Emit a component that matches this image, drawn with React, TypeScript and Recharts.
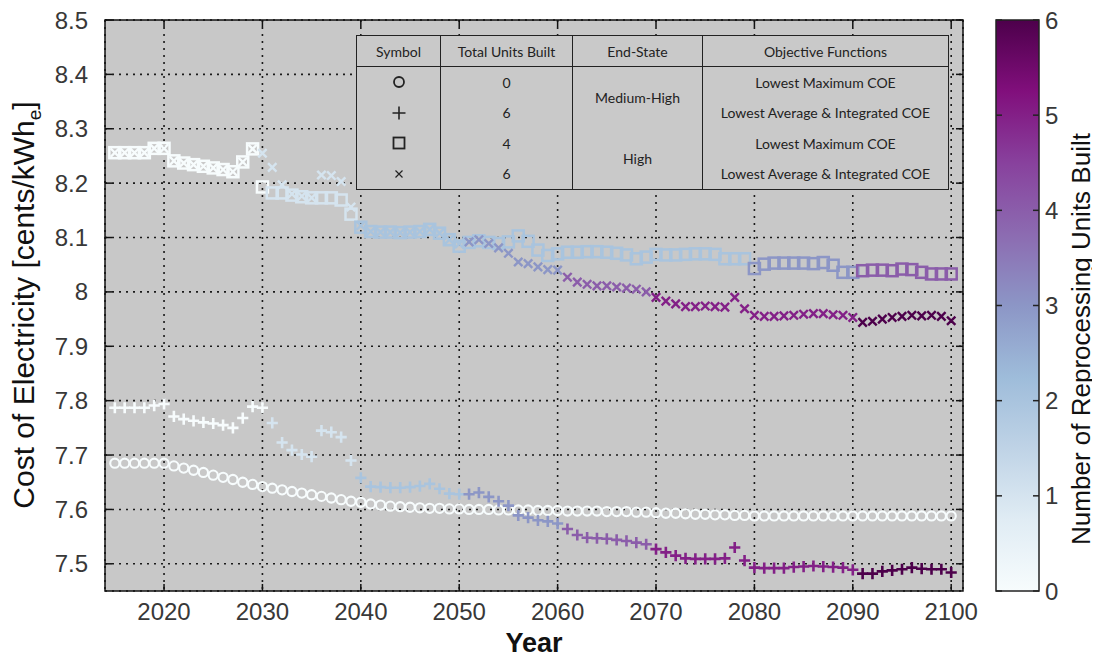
import React from "react";
import {
  ScatterChart,
  Scatter,
  XAxis,
  YAxis,
  CartesianGrid,
  ReferenceArea,
} from "recharts";

// one point per year, 2015 .. 2100
const years = Array.from({ length: 86 }, (_, i) => 2015 + i);

// Medium-High end state, lowest maximum COE (0 units)
const circleCoe = [
  7.685, 7.685, 7.685, 7.685, 7.685, 7.685,
  7.68, 7.676, 7.672, 7.668, 7.663, 7.659, 7.655, 7.65, 7.646, 7.642,
  7.639, 7.636, 7.633, 7.63, 7.627, 7.624, 7.621, 7.618, 7.615, 7.613,
  7.61, 7.608, 7.606, 7.605, 7.604, 7.603, 7.602, 7.602, 7.601, 7.601,
  7.6, 7.6, 7.6, 7.599, 7.599, 7.599, 7.599, 7.598, 7.598, 7.598,
  7.597, 7.597, 7.597, 7.597, 7.596, 7.596, 7.596, 7.595, 7.595, 7.594,
  7.593, 7.593, 7.592, 7.591, 7.591, 7.59, 7.59, 7.589, 7.589, 7.588,
  7.588, 7.588, 7.588, 7.588, 7.588, 7.588, 7.588, 7.588, 7.588, 7.588,
  7.588, 7.588, 7.588, 7.588, 7.588, 7.588, 7.588, 7.588, 7.588, 7.588,
];

// Medium-High end state, lowest average & integrated COE (6 units)
const plusCoe = [
  7.787, 7.787, 7.787, 7.787, 7.791, 7.794,
  7.771, 7.766, 7.763, 7.76, 7.758, 7.755, 7.75, 7.768, 7.789, 7.787,
  7.759, 7.723, 7.709, 7.701, 7.697, 7.745, 7.742, 7.733, 7.69, 7.658,
  7.642, 7.641, 7.64, 7.64, 7.641, 7.643, 7.647, 7.638, 7.629, 7.628,
  7.628, 7.631, 7.623, 7.615, 7.607, 7.589, 7.585, 7.58, 7.578, 7.574,
  7.564, 7.553, 7.548, 7.547, 7.546, 7.544, 7.542, 7.539, 7.536, 7.527,
  7.521, 7.515, 7.51, 7.509, 7.509, 7.509, 7.51, 7.53, 7.506, 7.493,
  7.492, 7.492, 7.492, 7.494, 7.495, 7.496, 7.495, 7.494, 7.493, 7.489,
  7.482, 7.482, 7.486, 7.488, 7.49, 7.493, 7.491, 7.49, 7.49, 7.484,
];

// High end state, lowest maximum COE (4 units)
const squareCoe = [
  8.256, 8.256, 8.256, 8.256, 8.264, 8.264,
  8.241, 8.237, 8.234, 8.231, 8.228, 8.225, 8.221, 8.239, 8.263, 8.193,
  8.182, 8.182, 8.178, 8.175, 8.173, 8.173, 8.173, 8.169, 8.143, 8.119,
  8.111, 8.11, 8.11, 8.109, 8.11, 8.111, 8.115, 8.108, 8.096, 8.084,
  8.091, 8.094, 8.091, 8.089, 8.092, 8.103, 8.093, 8.077, 8.067, 8.07,
  8.073, 8.073, 8.074, 8.074, 8.073, 8.071, 8.068, 8.061, 8.064, 8.069,
  8.068, 8.068, 8.069, 8.07, 8.07, 8.069, 8.061, 8.061, 8.061, 8.043,
  8.051, 8.053, 8.053, 8.053, 8.053, 8.052, 8.054, 8.049, 8.036, 8.036,
  8.039, 8.04, 8.04, 8.039, 8.042, 8.041, 8.036, 8.033, 8.033, 8.033,
];

// High end state, lowest average & integrated COE (6 units)
const crossCoe = [
  8.256, 8.256, 8.256, 8.256, 8.264, 8.264,
  8.241, 8.237, 8.234, 8.231, 8.228, 8.225, 8.221, 8.239, 8.263, 8.255,
  8.229, 8.197, 8.18, 8.176, 8.173, 8.215, 8.214, 8.203, 8.156, 8.122,
  8.111, 8.11, 8.11, 8.109, 8.11, 8.111, 8.115, 8.108, 8.096, 8.088,
  8.092, 8.096, 8.089, 8.081, 8.071, 8.055, 8.052, 8.046, 8.041, 8.04,
  8.027, 8.018, 8.014, 8.011, 8.011, 8.009, 8.007, 8.005, 8.0, 7.99,
  7.983, 7.978, 7.973, 7.973, 7.974, 7.973, 7.972, 7.99, 7.969, 7.957,
  7.955, 7.955, 7.956, 7.957, 7.959, 7.96, 7.96, 7.958, 7.957, 7.953,
  7.944, 7.946, 7.95, 7.953, 7.955, 7.957, 7.956, 7.957, 7.955, 7.947,
];

// years in which each reprocessing unit came online
const circleUnitYears: number[] = [];
const plusUnitYears = [2031, 2040, 2051, 2061, 2070, 2091];
const squareUnitYears = [2031, 2040, 2080, 2091];
const crossUnitYears = [2030, 2040, 2051, 2061, 2070, 2091];

const xTicks = [2020, 2030, 2040, 2050, 2060, 2070, 2080, 2090, 2100];
const yTicks = [7.5, 7.6, 7.7, 7.8, 7.9, 8.0, 8.1, 8.2, 8.3, 8.4, 8.5];
const unitTicks = [0, 1, 2, 3, 4, 5, 6];

const X_DOMAIN: [number, number] = [2014, 2101.2];
const Y_DOMAIN: [number, number] = [7.45, 8.5];

const W = 1090;
const H = 651;
const PLOT_LEFT = 97;
const PLOT_TOP = 12;
const PLOT_RIGHT = 955;
const PLOT_BOTTOM = 583;

const FONT = "'Liberation Sans', Arial, sans-serif";

// ColorBrewer BuPu
const BUPU = [
  "#f7fcfd", "#e0ecf4", "#bfd3e6", "#9ebcda", "#8c96c6",
  "#8c6bb1", "#88419d", "#810f7c", "#4d004b",
];

const hexToRgb = (h: string) => [
  parseInt(h.slice(1, 3), 16),
  parseInt(h.slice(3, 5), 16),
  parseInt(h.slice(5, 7), 16),
];

const unitColor = (u: number) => {
  const t = (u / 6) * (BUPU.length - 1);
  const i = Math.min(BUPU.length - 2, Math.floor(t));
  const f = t - i;
  const a = hexToRgb(BUPU[i]);
  const b = hexToRgb(BUPU[i + 1]);
  const c = a.map((v, k) => Math.round(v + (b[k] - v) * f));
  return `rgb(${c[0]},${c[1]},${c[2]})`;
};

const unitsAt = (steps: number[], year: number) =>
  steps.filter((s) => s <= year).length;

const toPoints = (coe: number[], steps: number[]) =>
  years.map((year, i) => ({ year, coe: coe[i], units: unitsAt(steps, year) }));

const circleData = toPoints(circleCoe, circleUnitYears);
const plusData = toPoints(plusCoe, plusUnitYears);
const squareData = toPoints(squareCoe, squareUnitYears);
const crossData = toPoints(crossCoe, crossUnitYears);

const CircleMark = (p: any) => (
  <circle
    cx={p.cx}
    cy={p.cy}
    r={4.6}
    fill="none"
    stroke={unitColor(p.payload.units)}
    strokeWidth={2.1}
  />
);

const PlusMark = (p: any) => {
  const s = 5.6;
  return (
    <path
      d={`M${p.cx - s},${p.cy}H${p.cx + s}M${p.cx},${p.cy - s}V${p.cy + s}`}
      stroke={unitColor(p.payload.units)}
      strokeWidth={2.6}
      fill="none"
    />
  );
};

const SquareMark = (p: any) => {
  const s = 5.5;
  return (
    <rect
      x={p.cx - s}
      y={p.cy - s}
      width={2 * s}
      height={2 * s}
      fill="none"
      stroke={unitColor(p.payload.units)}
      strokeWidth={2.5}
    />
  );
};

const CrossMark = (p: any) => {
  const s = 4.2;
  return (
    <path
      d={`M${p.cx - s},${p.cy - s}L${p.cx + s},${p.cy + s}M${p.cx - s},${p.cy + s}L${p.cx + s},${p.cy - s}`}
      stroke={unitColor(p.payload.units)}
      strokeWidth={2.4}
      fill="none"
    />
  );
};

const XTick = (props: any) => {
  const { x, payload } = props;
  return (
    <g>
      <line x1={x} x2={x} y1={PLOT_BOTTOM} y2={PLOT_BOTTOM - 7} stroke="#111" strokeWidth={1.5} />
      <line x1={x} x2={x} y1={PLOT_TOP} y2={PLOT_TOP + 7} stroke="#111" strokeWidth={1.5} />
      <text
        x={x}
        y={PLOT_BOTTOM + 29}
        textAnchor="middle"
        fontSize={24}
        fontFamily={FONT}
        fill="#383838"
      >
        {payload.value}
      </text>
    </g>
  );
};

const YTick = (props: any) => {
  const { y, payload } = props;
  return (
    <g>
      <line x1={PLOT_LEFT} x2={PLOT_LEFT + 7} y1={y} y2={y} stroke="#111" strokeWidth={1.5} />
      <line x1={PLOT_RIGHT} x2={PLOT_RIGHT - 7} y1={y} y2={y} stroke="#111" strokeWidth={1.5} />
      <text
        x={PLOT_LEFT - 17}
        y={y + 8.5}
        textAnchor="end"
        fontSize={24}
        fontFamily={FONT}
        fill="#383838"
      >
        {payload.value === 8 ? "8" : payload.value.toFixed(1)}
      </text>
    </g>
  );
};

const YLabel = () => (
  <text
    transform="translate(26, 297) rotate(-90)"
    textAnchor="middle"
    fontSize={30}
    fontFamily={FONT}
    fill="#111"
  >
    Cost of Electricity [cents/kWh
    <tspan fontSize={19} dy={7}>e</tspan>
    <tspan dy={-7}>]</tspan>
  </text>
);

const XLabel = () => (
  <text
    x={(PLOT_LEFT + PLOT_RIGHT) / 2}
    y={644}
    textAnchor="middle"
    fontSize={27}
    fontWeight="bold"
    fontFamily={FONT}
    fill="#111"
  >
    Year
  </text>
);

const symbolStroke = "#222";
const LegendSymbol = ({ kind }: { kind: string }) => (
  <svg width={16} height={16} style={{ display: "block", margin: "0 auto" }}>
    {kind === "circle" && (
      <circle cx={8} cy={8} r={5} fill="none" stroke={symbolStroke} strokeWidth={1.8} />
    )}
    {kind === "plus" && (
      <path d="M1.5,8H14.5M8,1.5V14.5" stroke={symbolStroke} strokeWidth={1.6} />
    )}
    {kind === "square" && (
      <rect x={2.5} y={2.5} width={11} height={11} fill="none" stroke={symbolStroke} strokeWidth={1.8} />
    )}
    {kind === "cross" && (
      <path d="M4.5,4.5L11.5,11.5M4.5,11.5L11.5,4.5" stroke={symbolStroke} strokeWidth={1.2} />
    )}
  </svg>
);

const legendRows = [
  { kind: "circle", units: "0", objective: "Lowest Maximum COE" },
  { kind: "plus", units: "6", objective: "Lowest Average & Integrated COE" },
  { kind: "square", units: "4", objective: "Lowest Maximum COE" },
  { kind: "cross", units: "6", objective: "Lowest Average & Integrated COE" },
];
const endStates = ["Medium-High", "High"];

const LINE = "1.5px solid #222";

const LegendTable = () => {
  const cell: React.CSSProperties = {
    borderLeft: LINE,
    borderRight: LINE,
    padding: 0,
    textAlign: "center",
    verticalAlign: "middle",
  };
  return (
    <table
      style={{
        position: "absolute",
        left: 348,
        top: 27,
        width: 592,
        height: 154,
        borderCollapse: "collapse",
        background: "#c9c9c9",
        fontFamily: "Lato, 'Open Sans', sans-serif",
        fontSize: 14,
        color: "#222",
        border: LINE,
        tableLayout: "fixed",
      }}
    >
      <colgroup>
        <col style={{ width: 84 }} />
        <col style={{ width: 132 }} />
        <col style={{ width: 130 }} />
        <col style={{ width: 246 }} />
      </colgroup>
      <thead>
        <tr style={{ height: 31 }}>
          {["Symbol", "Total Units Built", "End-State", "Objective Functions"].map((h) => (
            <th key={h} style={{ ...cell, fontWeight: "normal", borderBottom: LINE }}>
              {h}
            </th>
          ))}
        </tr>
      </thead>
      <tbody>
        {legendRows.map((r, i) => (
          <tr key={i} style={{ height: 30.75 }}>
            <td style={cell}>
              <LegendSymbol kind={r.kind} />
            </td>
            <td style={cell}>{r.units}</td>
            {i % 2 === 0 && (
              <td style={cell} rowSpan={2}>
                {endStates[i / 2]}
              </td>
            )}
            <td style={cell}>{r.objective}</td>
          </tr>
        ))}
      </tbody>
    </table>
  );
};

const CB_LEFT = 988;
const CB_WIDTH = 43;

const ColorBar = () => {
  const yOf = (u: number) => PLOT_BOTTOM - (u / 6) * (PLOT_BOTTOM - PLOT_TOP);
  return (
    <svg
      width={W}
      height={H}
      style={{ position: "absolute", left: 0, top: 0, pointerEvents: "none" }}
    >
      <defs>
        <linearGradient id="bupu" x1="0" y1="1" x2="0" y2="0">
          {BUPU.map((c, i) => (
            <stop key={c} offset={i / (BUPU.length - 1)} stopColor={c} />
          ))}
        </linearGradient>
      </defs>
      <rect
        x={CB_LEFT}
        y={PLOT_TOP}
        width={CB_WIDTH}
        height={PLOT_BOTTOM - PLOT_TOP}
        fill="url(#bupu)"
        stroke="#222"
        strokeWidth={1.5}
      />
      {unitTicks.map((u) => (
        <g key={u}>
          <line x1={CB_LEFT} x2={CB_LEFT + 6} y1={yOf(u)} y2={yOf(u)} stroke="#222" strokeWidth={1.5} />
          <line
            x1={CB_LEFT + CB_WIDTH}
            x2={CB_LEFT + CB_WIDTH - 6}
            y1={yOf(u)}
            y2={yOf(u)}
            stroke="#222"
            strokeWidth={1.5}
          />
          <text x={CB_LEFT + CB_WIDTH + 6} y={yOf(u) + 8.5} fontSize={24} fontFamily={FONT} fill="#383838">
            {u}
          </text>
        </g>
      ))}
      <text
        transform="translate(1082, 331) rotate(-90)"
        textAnchor="middle"
        fontSize={26}
        fontFamily={FONT}
        fill="#111"
      >
        Number of Reprocessing Units Built
      </text>
    </svg>
  );
};

export default function App() {
  return (
    <div style={{ position: "relative", width: W, height: H }}>
      <ScatterChart
        width={W}
        height={H}
        margin={{ top: PLOT_TOP, right: W - PLOT_RIGHT, bottom: H - PLOT_BOTTOM - 50, left: PLOT_LEFT - 60 }}
      >
        <CartesianGrid
          stroke="#1a1a1a"
          strokeWidth={1.6}
          strokeDasharray="2 5"
          fill="#c8c8c8"
          fillOpacity={1}
        />
        <XAxis
          type="number"
          dataKey="year"
          domain={X_DOMAIN}
          ticks={xTicks}
          interval={0}
          allowDataOverflow
          axisLine={false}
          tickLine={false}
          tick={(p: any) => <XTick {...p} />}
          height={50}
          label={{ content: () => <XLabel /> }}
        />
        <YAxis
          type="number"
          dataKey="coe"
          domain={Y_DOMAIN}
          ticks={yTicks}
          interval={0}
          allowDataOverflow
          axisLine={false}
          tickLine={false}
          tick={(p: any) => <YTick {...p} />}
          width={60}
          label={{ content: () => <YLabel /> }}
        />
        <Scatter data={circleData} shape={(p: any) => <CircleMark {...p} />} isAnimationActive={false} />
        <Scatter data={plusData} shape={(p: any) => <PlusMark {...p} />} isAnimationActive={false} />
        <Scatter data={squareData} shape={(p: any) => <SquareMark {...p} />} isAnimationActive={false} />
        <Scatter data={crossData} shape={(p: any) => <CrossMark {...p} />} isAnimationActive={false} />
        <ReferenceArea
          x1={X_DOMAIN[0]}
          x2={X_DOMAIN[1]}
          y1={Y_DOMAIN[0]}
          y2={Y_DOMAIN[1]}
          fill="none"
          stroke="#111"
          strokeWidth={1.5}
          ifOverflow="visible"
        />
      </ScatterChart>
      <LegendTable />
      <ColorBar />
    </div>
  );
}
